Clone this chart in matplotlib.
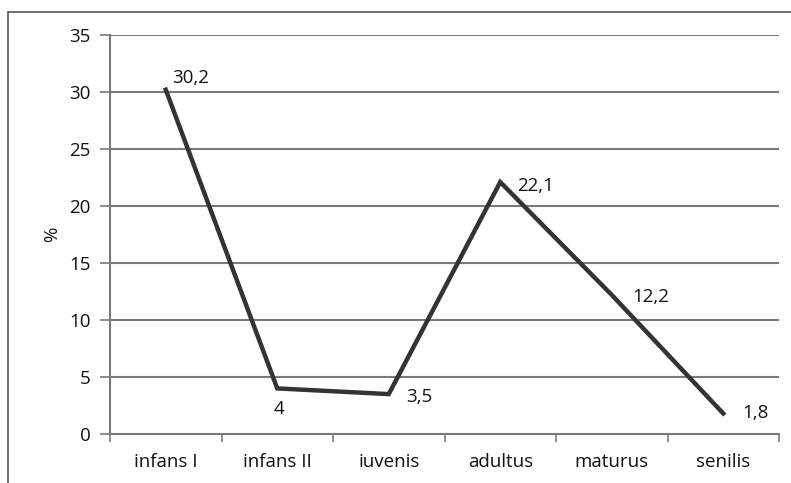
import matplotlib
matplotlib.use("Agg")
import matplotlib.pyplot as plt
from matplotlib.patches import Rectangle

categories = ["infans I", "infans II", "iuvenis", "adultus", "maturus", "senilis"]
values = [30.2, 4, 3.5, 22.1, 12.2, 1.8]
value_labels = ["30,2", "4", "3,5", "22,1", "12,2", "1,8"]
yticks = [0, 5, 10, 15, 20, 25, 30, 35]

plt.rcParams['font.family'] = ['Open Sans', 'DejaVu Sans']
FS = 13.5

W, H = 791, 483
fig = plt.figure(figsize=(W/100, H/100), dpi=100)
ax = fig.add_axes([110/W, 1-434/H, (779-110)/W, (434-35)/H])

x = list(range(len(categories)))
ax.set_xlim(-0.5, len(categories)-0.5)
ax.set_ylim(0, 35)
ax.set_yticks(yticks)
ax.set_yticklabels([str(v) for v in yticks], fontsize=FS, color='#111111')
for yv in yticks[1:]:
    ax.axhline(yv, color='#7a7a7a', lw=1.5, zorder=1)

ax.plot(x, values, color='#333333', lw=3.2, zorder=3, solid_joinstyle='miter')

offsets = [(6, 12), (2, -21), (17, -3), (17, -4), (21, -2), (19, 0)]
for xi, v, lab, (dx, dy) in zip(x, values, value_labels, offsets):
    ax.annotate(lab, (xi, v), xytext=(dx, dy), textcoords='offset pixels',
                ha='left' if dx > 3 else 'center', va='center', fontsize=FS, color='#111111')

ax.set_xticks([i - 0.5 for i in range(len(categories)+1)], minor=False)
ax.set_xticklabels([])
ax.set_xticks(x, minor=True)
ax.set_xticklabels(categories, minor=True, fontsize=FS, color='#111111')
ax.tick_params(axis='x', which='minor', length=0, pad=14)
ax.tick_params(axis='x', which='major', length=6, color='#7a7a7a', width=1.2)
ax.tick_params(axis='y', length=7, color='#7a7a7a', width=1.2, pad=7)

for s in ['top', 'right']:
    ax.spines[s].set_visible(False)
for s in ['left', 'bottom']:
    ax.spines[s].set_color('#7a7a7a')
    ax.spines[s].set_linewidth(1.5)

ax.set_ylabel('%', fontsize=FS, labelpad=6, color='#111111')

fig.patches.append(Rectangle((8/W, -0.1), 1.2, 1 - 12/H + 0.1, transform=fig.transFigure,
                             fill=False, edgecolor='#555555', lw=1.2))

fig.savefig('out.png', dpi=100)
